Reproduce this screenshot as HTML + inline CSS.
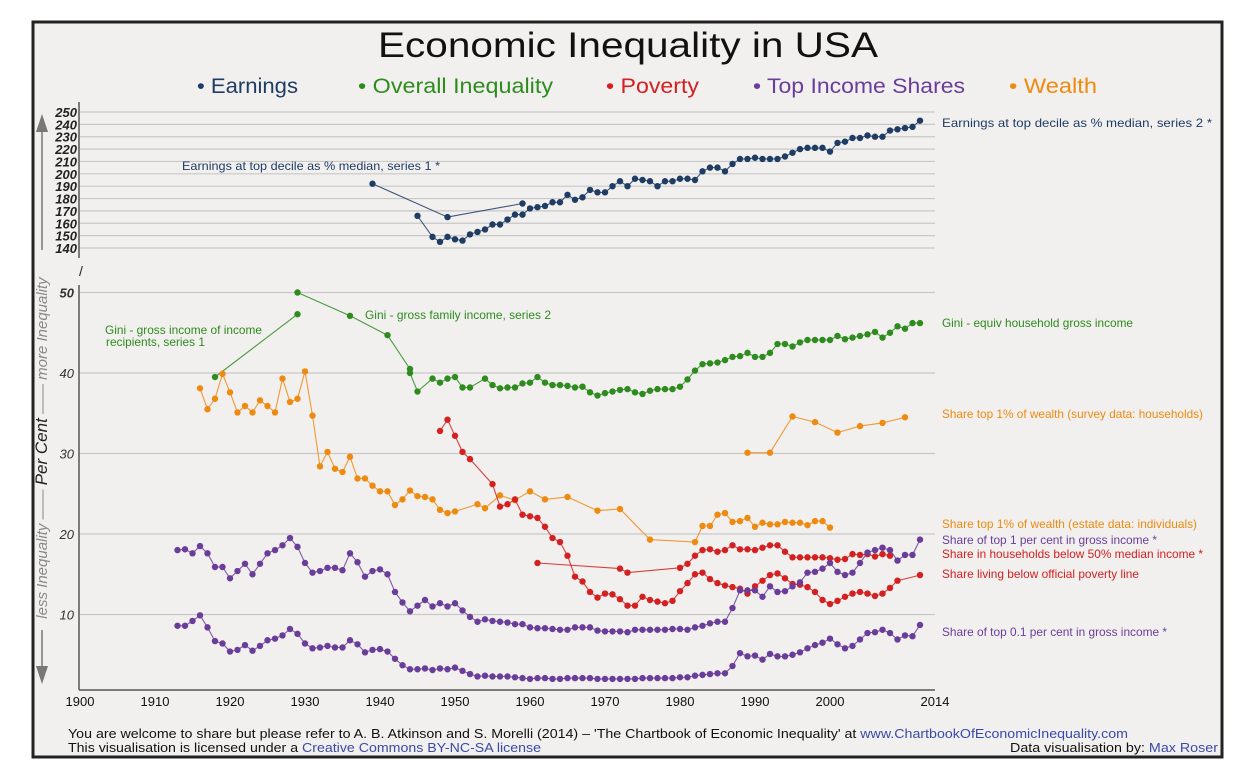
<!DOCTYPE html>
<html><head><meta charset="utf-8">
<style>
html,body{margin:0;padding:0;background:#fff;width:1260px;height:778px;overflow:hidden;font-family:"Liberation Sans",Arial,sans-serif;}
svg{display:block}
</style></head>
<body>
<svg id="chart" width="1260" height="778" viewBox="0 0 1260 778" xmlns="http://www.w3.org/2000/svg">
<rect x="33" y="22" width="1189" height="735" fill="#f1f0ee" stroke="#222" stroke-width="3"/>
<text x="378" y="57" font-size="35" fill="#111" textLength="500" lengthAdjust="spacingAndGlyphs">Economic Inequality in USA</text>
<g font-size="21">
<text x="197" y="93" fill="#1f3c64" textLength="101" lengthAdjust="spacingAndGlyphs">• Earnings</text>
<text x="358" y="93" fill="#2e8b1e" textLength="195" lengthAdjust="spacingAndGlyphs">• Overall Inequality</text>
<text x="606" y="93" fill="#d42020" textLength="93" lengthAdjust="spacingAndGlyphs">• Poverty</text>
<text x="753" y="93" fill="#6a3d9a" textLength="212" lengthAdjust="spacingAndGlyphs">• Top Income Shares</text>
<text x="1009" y="93" fill="#ee8a10" textLength="88" lengthAdjust="spacingAndGlyphs">• Wealth</text>
</g>
<g id="grid"></g>
<g id="axes"></g>
<g id="series"></g>
<g>
<line x1="42" y1="250" x2="42" y2="130" stroke="#777" stroke-width="1.5"/>
<polygon points="36,132 48,132 42,114" fill="#777"/>
<line x1="42" y1="630" x2="42" y2="668" stroke="#777" stroke-width="1.5"/>
<polygon points="36,666 48,666 42,684" fill="#777"/>
<text transform="translate(47,448) rotate(-90)" text-anchor="middle" font-size="15" font-style="italic" fill="#888">less Inequality —— <tspan fill="#222" font-size="17">Per Cent</tspan> —— more Inequality</text>
<text x="79" y="276" font-size="14" fill="#222">/</text>
</g>
<g font-size="12">
<text x="942" y="127" fill="#1f3c64" textLength="270" lengthAdjust="spacingAndGlyphs">Earnings at top decile as % median, series 2 *</text>
<text x="182" y="170" fill="#1f3c64" textLength="258" lengthAdjust="spacingAndGlyphs">Earnings at top decile as % median, series 1 *</text>
<text x="105" y="334" fill="#2e8b1e" textLength="157" lengthAdjust="spacingAndGlyphs">Gini - gross income of income</text>
<text x="106" y="346" fill="#2e8b1e" textLength="99" lengthAdjust="spacingAndGlyphs">recipients, series 1</text>
<text x="365" y="319" fill="#2e8b1e" textLength="186" lengthAdjust="spacingAndGlyphs">Gini - gross family income, series 2</text>
<text x="942" y="327" fill="#2e8b1e" textLength="191" lengthAdjust="spacingAndGlyphs">Gini - equiv household gross income</text>
<text x="942" y="418" fill="#ee8a10" textLength="261" lengthAdjust="spacingAndGlyphs">Share top 1% of wealth (survey data: households)</text>
<text x="942" y="528" fill="#ee8a10" textLength="255" lengthAdjust="spacingAndGlyphs">Share top 1% of wealth (estate data: individuals)</text>
<text x="942" y="544" fill="#6a3d9a" textLength="215" lengthAdjust="spacingAndGlyphs">Share of top 1 per cent in gross income *</text>
<text x="942" y="558" fill="#d42020" textLength="261" lengthAdjust="spacingAndGlyphs">Share in households below 50% median income *</text>
<text x="942" y="578" fill="#d42020" textLength="197" lengthAdjust="spacingAndGlyphs">Share living below official poverty line</text>
<text x="942" y="636" fill="#6a3d9a" textLength="225" lengthAdjust="spacingAndGlyphs">Share of top 0.1 per cent in gross income *</text>
</g>
<g font-size="13" fill="#111">
<text x="68" y="738" textLength="1060" lengthAdjust="spacingAndGlyphs">You are welcome to share but please refer to A. B. Atkinson and S. Morelli (2014) – 'The Chartbook of Economic Inequality' at <tspan fill="#3a4aa8">www.ChartbookOfEconomicInequality.com</tspan></text>
<text x="68" y="752" textLength="473" lengthAdjust="spacingAndGlyphs">This visualisation is licensed under a <tspan fill="#3a4aa8">Creative Commons BY-NC-SA license</tspan></text>
<text x="1010" y="752" textLength="208" lengthAdjust="spacingAndGlyphs">Data visualisation by: <tspan fill="#3a4aa8">Max Roser</tspan></text>
</g>
</svg>
<script>
// ---- data ----
const xTicks = [1900,1910,1920,1930,1940,1950,1960,1970,1980,1990,2000,2014];
const earnTicks = [250,240,230,220,210,200,190,180,170,160,150,140];
const pctTicks = [50,40,30,20,10];

const earn1Years = [1939,1949,1959];
const earn1Vals = [192,165,176];
const earn2Years = [1945,1947,1948,1949,1950,1951,1952,1953,1954,1955,1956,1957,1958,1959,1960,1961,1962,1963,1964,1965,1966,1967,1968,1969,1970,1971,1972,1973,1974,1975,1976,1977,1978,1979,1980,1981,1982,1983,1984,1985,1986,1987,1988,1989,1990,1991,1992,1993,1994,1995,1996,1997,1998,1999,2000,2001,2002,2003,2004,2005,2006,2007,2008,2009,2010,2011,2012];
const earn2Vals = [166,149,145,149,147,146,151,153,155,159,159,163,167,167,172,173,174,177,177,183,179,181,187,185,185,190,194,190,196,195,194,190,194,194,196,196,195,202,205,205,202,208,212,212,213,212,212,212,214,217,220,221,221,221,218,225,226,229,229,231,230,230,235,236,237,238,243];

const gini1Years = [1918,1929];
const gini1Vals = [39.5,47.3];
const gini2Years = [1929,1936,1941,1944];
const gini2Vals = [50,47.1,44.7,40.5];
const gini3Years = [1944,1945,1947,1948,1949,1950,1951,1952,1954,1955,1956,1957,1958,1959,1960,1961,1962,1963,1964,1965,1966,1967,1968,1969,1970,1971,1972,1973,1974,1975,1976,1977,1978,1979,1980,1981,1982,1983,1984,1985,1986,1987,1988,1989,1990,1991,1992,1993,1994,1995,1996,1997,1998,1999,2000,2001,2002,2003,2004,2005,2006,2007,2008,2009,2010,2011,2012];
const gini3Vals = [40,37.7,39.3,38.8,39.3,39.5,38.2,38.2,39.3,38.5,38.1,38.2,38.2,38.7,38.8,39.5,38.8,38.5,38.5,38.4,38.2,38.3,37.6,37.2,37.5,37.7,37.9,38,37.6,37.4,37.8,38,38,38,38.3,39.2,40.3,41.1,41.2,41.3,41.6,42,42.1,42.5,42,42,42.5,43.6,43.6,43.3,43.8,44.1,44.1,44.1,44.1,44.6,44.2,44.4,44.6,44.8,45.1,44.4,45,45.8,45.5,46.2,46.2];

const wealthEstateYears = [1916,1917,1918,1919,1920,1921,1922,1923,1924,1925,1926,1927,1928,1929,1930,1931,1932,1933,1934,1935,1936,1937,1938,1939,1940,1941,1942,1943,1944,1945,1946,1947,1948,1949,1950,1953,1954,1956,1958,1960,1962,1965,1969,1972,1976,1982,1983,1984,1985,1986,1987,1988,1989,1990,1991,1992,1993,1994,1995,1996,1997,1998,1999,2000];
const wealthEstateVals = [38.1,35.5,36.8,39.9,37.6,35.1,35.9,35.1,36.6,35.9,35.1,39.3,36.4,36.8,40.2,34.7,28.4,30.2,28.1,27.7,29.6,26.9,26.9,26,25.3,25.3,23.6,24.3,25.4,24.7,24.6,24.3,23,22.6,22.8,23.7,23.2,24.8,24.2,25.3,24.3,24.6,22.9,23.1,19.3,19,21,21,22.4,22.6,21.5,21.6,22,20.9,21.4,21.2,21.2,21.5,21.4,21.4,21.1,21.6,21.6,20.8];
const wealthSurveyYears = [1989,1992,1995,1998,2001,2004,2007,2010];
const wealthSurveyVals = [30.1,30.1,34.6,33.9,32.6,33.4,33.8,34.5];

const povOfficialYears = [1948,1949,1950,1951,1952,1955,1956,1957,1958,1959,1960,1961,1962,1963,1964,1965,1966,1967,1968,1969,1970,1971,1972,1973,1974,1975,1976,1977,1978,1979,1980,1981,1982,1983,1984,1985,1986,1987,1988,1989,1990,1991,1992,1993,1994,1995,1996,1997,1998,1999,2000,2001,2002,2003,2004,2005,2006,2007,2008,2009,2012];
const povOfficialVals = [32.8,34.2,32.2,30.2,29.3,26.2,23.4,23.7,24.3,22.4,22.2,22,20.9,19.5,19,17.3,14.7,14.1,12.8,12.1,12.6,12.5,11.9,11.1,11.1,12.2,11.8,11.6,11.4,11.7,12.9,13.9,15,15.2,14.4,13.9,13.6,13.4,13.2,12.6,13.5,14.2,14.9,15.1,14.5,13.8,13.7,13.4,12.8,11.8,11.3,11.7,12.2,12.6,12.8,12.6,12.3,12.6,13.3,14.2,14.9];
const pov50Years = [1961,1972,1973,1980,1981,1982,1983,1984,1985,1986,1987,1988,1989,1990,1991,1992,1993,1994,1995,1996,1997,1998,1999,2000,2001,2002,2003,2004,2005,2006,2007,2008];
const pov50Vals = [16.4,15.7,15.2,15.8,16.3,17.3,18,18.1,17.8,18,18.6,18.1,18.1,18,18.3,18.6,18.6,17.8,17.1,17.1,17.1,17.1,17.1,17,16.8,16.9,17.5,17.4,17.5,17.2,17.5,17.3];

const top1Years = [1913,1914,1915,1916,1917,1918,1919,1920,1921,1922,1923,1924,1925,1926,1927,1928,1929,1930,1931,1932,1933,1934,1935,1936,1937,1938,1939,1940,1941,1942,1943,1944,1945,1946,1947,1948,1949,1950,1951,1952,1953,1954,1955,1956,1957,1958,1959,1960,1961,1962,1963,1964,1965,1966,1967,1968,1969,1970,1971,1972,1973,1974,1975,1976,1977,1978,1979,1980,1981,1982,1983,1984,1985,1986,1987,1988,1989,1990,1991,1992,1993,1994,1995,1996,1997,1998,1999,2000,2001,2002,2003,2004,2005,2006,2007,2008,2009,2010,2011,2012];
const top1Vals = [18,18.1,17.6,18.5,17.6,15.9,15.9,14.5,15.4,16.3,15,16.3,17.6,18,18.6,19.5,18.4,16.4,15.2,15.4,15.8,15.8,15.5,17.6,16.5,14.7,15.4,15.6,15,12.8,11.5,10.4,11.1,11.8,11,11.4,11,11.4,10.5,9.7,9.1,9.4,9.2,9.1,9,8.8,8.8,8.4,8.3,8.3,8.2,8.1,8.1,8.4,8.4,8.4,8,7.9,7.9,7.9,7.8,8.1,8.1,8.1,8.1,8.1,8.2,8.2,8.1,8.4,8.6,8.9,9.1,9.1,10.8,13,13,13,12.2,13.5,12.8,12.9,13.5,14,15.2,15.3,15.7,16.4,15.3,14.9,15.2,16.4,17.7,18,18.3,18,16.7,17.4,17.4,19.3];
const top01Years = [1913,1914,1915,1916,1917,1918,1919,1920,1921,1922,1923,1924,1925,1926,1927,1928,1929,1930,1931,1932,1933,1934,1935,1936,1937,1938,1939,1940,1941,1942,1943,1944,1945,1946,1947,1948,1949,1950,1951,1952,1953,1954,1955,1956,1957,1958,1959,1960,1961,1962,1963,1964,1965,1966,1967,1968,1969,1970,1971,1972,1973,1974,1975,1976,1977,1978,1979,1980,1981,1982,1983,1984,1985,1986,1987,1988,1989,1990,1991,1992,1993,1994,1995,1996,1997,1998,1999,2000,2001,2002,2003,2004,2005,2006,2007,2008,2009,2010,2011,2012];
const top01Vals = [8.6,8.6,9.2,9.9,8.4,6.7,6.4,5.4,5.6,6.2,5.5,6.1,6.8,7,7.4,8.2,7.6,6.4,5.8,5.9,6.1,5.9,5.9,6.8,6.3,5.3,5.6,5.7,5.4,4.5,3.7,3.2,3.2,3.3,3.1,3.3,3.2,3.4,3,2.6,2.3,2.4,2.3,2.3,2.3,2.2,2.1,2,2.1,2.1,2,2,2.1,2.1,2.1,2.1,2,2,2,2,2,2,2.1,2.1,2.1,2.1,2.1,2.2,2.2,2.4,2.5,2.6,2.7,2.7,3.6,5.2,4.8,4.9,4.4,5.1,4.8,4.8,5,5.3,5.8,6.2,6.5,7,6.3,5.8,6.1,6.9,7.7,7.8,8.1,7.7,6.9,7.4,7.3,8.7];

// ---- scales ----
const NS = 'http://www.w3.org/2000/svg';
function xs(yr){ return 80 + 7.5*(yr-1900); }
function ye(v){ return 248 - 1.2364*(v-140); }
function yp(v){ return 695 - 8.05*v; }
function mk(tag, attrs, parent){
  const el = document.createElementNS(NS, tag);
  for (const k in attrs) el.setAttribute(k, attrs[k]);
  parent.appendChild(el);
  return el;
}
const grid = document.getElementById('grid');
const axes = document.getElementById('axes');
const series = document.getElementById('series');

earnTicks.forEach(t=>{
  const l = mk('line',{x1:80,x2:935,y1:ye(t),y2:ye(t),stroke:'#c8c8c8','stroke-width':1.2},grid);
  
  
  const tx = mk('text',{x:77,y:ye(t)+5,'text-anchor':'end','font-size':13,'font-weight':'bold','font-style':'italic',fill:'#222'},axes);
  tx.textContent = t;
  
  
});
pctTicks.forEach(t=>{
  const l = mk('line',{x1:80,x2:935,y1:yp(t),y2:yp(t),stroke:'#c8c8c8','stroke-width':1.2},grid);
  
  
  const tx = mk('text',{x:74,y:yp(t)+5,'text-anchor':'end','font-size':13,'font-weight':t===50?'bold':'normal','font-style':'italic',fill:'#333'},axes);
  tx.textContent = t;
  
  
});
const ax1 = mk('line',{x1:79,x2:79,y1:102,y2:258,stroke:'#555','stroke-width':1.5},axes);


const ax2 = mk('line',{x1:79,x2:79,y1:285,y2:690,stroke:'#555','stroke-width':1.5},axes);


const ax3 = mk('line',{x1:79,x2:935,y1:690,y2:690,stroke:'#555','stroke-width':1.5},axes);


xTicks.forEach(t=>{
  const tx = mk('text',{x:xs(t),y:706,'text-anchor':'middle','font-size':13,fill:'#111'},axes);
  tx.textContent = t;
  
  
});

function draw(years, vals, yfn, color, name){
  const g = mk('g',{},series);
  
  
  const pts = years.map((y,i)=>xs(y).toFixed(1)+','+yfn(vals[i]).toFixed(1)).join(' ');
  const pl = mk('polyline',{points:pts,fill:'none',stroke:color,'stroke-width':1.1,opacity:0.85},g);
  
  
  years.forEach((y,i)=>{
    const c = mk('circle',{cx:xs(y),cy:yfn(vals[i]),r:3.2,fill:color},g);
    
    
  });
}
draw(earn1Years, earn1Vals, ye, '#1f3c64', 'earnings-series1');
draw(earn2Years, earn2Vals, ye, '#1f3c64', 'earnings-series2');
draw(gini1Years, gini1Vals, yp, '#2e8b1e', 'gini-series1');
draw(gini2Years, gini2Vals, yp, '#2e8b1e', 'gini-series2');
draw(gini3Years, gini3Vals, yp, '#2e8b1e', 'gini-equiv');
draw(wealthEstateYears, wealthEstateVals, yp, '#ee8a10', 'wealth-estate');
draw(wealthSurveyYears, wealthSurveyVals, yp, '#ee8a10', 'wealth-survey');
draw(povOfficialYears, povOfficialVals, yp, '#d42020', 'poverty-official');
draw(pov50Years, pov50Vals, yp, '#d42020', 'poverty-50-median');
draw(top1Years, top1Vals, yp, '#6a3d9a', 'top1-share');
draw(top01Years, top01Vals, yp, '#6a3d9a', 'top01-share');
</script>
</body></html>
